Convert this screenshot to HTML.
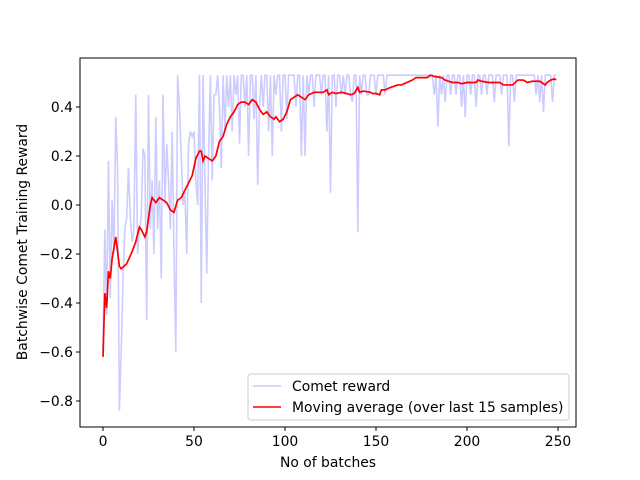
<!DOCTYPE html>
<html><head><meta charset="utf-8"><style>
body{margin:0;background:#fff}
svg{display:block;font-family:"DejaVu Sans","Liberation Sans",sans-serif}
</style></head><body>
<svg id="chart" width="640" height="480" viewBox="0 0 640 480">
<rect width="640" height="480" fill="#fff"/>
<g id="plot"></g>
<rect x="80" y="58" width="496" height="369" fill="none" stroke="#000" stroke-width="1"/>
<g id="xticks" font-size="13.9" text-anchor="middle"></g>
<g id="yticks" font-size="13.9" text-anchor="end"></g>
<text x="328" y="467" font-size="13.9" text-anchor="middle">No of batches</text>
<text transform="translate(27,242) rotate(-90)" font-size="13.9" text-anchor="middle">Batchwise Comet Training Reward</text>
<g>
<rect x="248" y="374" width="321" height="46" rx="3" fill="#fff" fill-opacity="0.8" stroke="#ccc"/>
<line x1="253" y1="386" x2="281" y2="386" stroke="#ccccff" stroke-width="1.6"/>
<text x="292" y="391" font-size="13.9">Comet reward</text>
<line x1="253" y1="407" x2="281" y2="407" stroke="#ff0000" stroke-width="1.6"/>
<text x="292" y="412" font-size="13.9">Moving average (over last 15 samples)</text>
</g>
</svg>
<script>
const rawReward = [
-0.6,-0.1,-0.45,0.18,-0.38,0.02,-0.2,0.36,0.15,-0.84,
-0.6,-0.3,-0.1,-0.05,0.15,-0.05,-0.15,-0.1,0.45,-0.2,
-0.1,-0.05,0.23,0.2,-0.47,0.45,-0.1,0.1,-0.2,0.36,
-0.1,0.1,-0.3,0.45,0.0,0.25,0.1,-0.1,0.3,-0.2,
-0.6,0.53,0.4,0.2,0.0,0.05,-0.2,0.25,0.3,0.28,
0.3,0.1,0.0,0.53,-0.4,0.53,0.1,-0.28,0.2,0.53,
0.1,0.45,0.45,0.53,0.4,0.15,0.53,0.3,0.53,0.4,
0.53,0.3,0.53,0.45,0.53,0.25,0.53,0.53,0.4,0.53,
0.2,0.53,0.53,0.35,0.53,0.08,0.4,0.53,0.4,0.53,
0.53,0.3,0.53,0.2,0.53,0.45,0.53,0.53,0.3,0.53,
0.53,0.35,0.53,0.53,0.53,0.53,0.4,0.53,0.53,0.2,
0.53,0.2,0.53,0.45,0.53,0.53,0.4,0.53,0.53,0.53,
0.45,0.53,0.53,0.3,0.53,0.05,0.53,0.53,0.4,0.53,
0.53,0.45,0.53,0.45,0.53,0.53,0.45,0.42,0.53,0.53,
-0.11,0.53,0.45,0.53,0.53,0.45,0.45,0.53,0.53,0.53,
0.45,0.53,0.53,0.53,0.53,0.45,0.53,0.53,0.53,0.53,
0.53,0.53,0.53,0.53,0.53,0.53,0.53,0.53,0.53,0.53,
0.53,0.53,0.53,0.53,0.53,0.53,0.53,0.53,0.53,0.53,
0.53,0.53,0.45,0.53,0.32,0.53,0.45,0.53,0.42,0.53,
0.53,0.45,0.53,0.53,0.45,0.53,0.53,0.4,0.53,0.36,
0.53,0.53,0.45,0.53,0.53,0.4,0.53,0.53,0.45,0.53,
0.53,0.45,0.53,0.53,0.53,0.42,0.53,0.53,0.53,0.45,
0.53,0.53,0.53,0.24,0.53,0.53,0.42,0.53,0.53,0.53,
0.53,0.53,0.53,0.53,0.53,0.53,0.53,0.53,0.45,0.53,
0.42,0.53,0.38,0.53,0.53,0.53,0.53,0.42,0.53,0.53];
const maX = [0,1,2,3,4,5,7,9,10,13,16,18,20,21,23,24,26,27,29,31,33,35,37,39,41,43,45,47,49,51,53,54,55,56,58,60,62,64,66,68,70,72,74,76,78,80,82,84,86,88,90,92,94,95,97,99,101,103,105,107,109,111,113,116,118,121,123,124,126,128,131,134,136,138,140,141,143,147,148,150,152,153,155,158,162,164,167,170,172,178,180,182,186,188,192,195,197,200,205,206,208,212,218,220,225,228,231,233,236,240,243,244,246,248,249];
const maY = [-0.62,-0.36,-0.42,-0.27,-0.3,-0.22,-0.13,-0.25,-0.26,-0.24,-0.19,-0.15,-0.09,-0.1,-0.13,-0.11,0.0,0.03,0.01,0.03,0.02,0.01,-0.02,-0.03,0.02,0.03,0.06,0.09,0.12,0.19,0.22,0.22,0.18,0.2,0.19,0.18,0.2,0.26,0.28,0.33,0.36,0.38,0.41,0.42,0.42,0.41,0.43,0.42,0.39,0.37,0.38,0.36,0.35,0.36,0.34,0.35,0.38,0.43,0.44,0.45,0.44,0.43,0.45,0.46,0.46,0.46,0.47,0.45,0.46,0.455,0.46,0.455,0.45,0.455,0.48,0.46,0.465,0.46,0.455,0.455,0.45,0.47,0.47,0.48,0.49,0.49,0.5,0.51,0.52,0.52,0.53,0.525,0.52,0.51,0.5,0.5,0.495,0.5,0.5,0.51,0.505,0.5,0.5,0.49,0.49,0.51,0.51,0.5,0.505,0.505,0.49,0.5,0.51,0.515,0.51];
const xTicks = [0,50,100,150,200,250];
const yTicks = [-0.8,-0.6,-0.4,-0.2,0.0,0.2,0.4];

const X = v => 103 + v*1.82;
const Y = v => 205 - v*245;
const NS = "http://www.w3.org/2000/svg";
const plot = document.getElementById('plot');

const raw = document.createElementNS(NS,'polyline');
raw.setAttribute('points', rawReward.map((v,i)=>X(i)+','+Y(v)).join(' '));
raw.setAttribute('fill','none'); raw.setAttribute('stroke','#ccccff'); raw.setAttribute('stroke-width','1.6');


plot.appendChild(raw);

const ma = document.createElementNS(NS,'polyline');
ma.setAttribute('points', maX.map((x,i)=>X(x)+','+Y(maY[i])).join(' '));
ma.setAttribute('fill','none'); ma.setAttribute('stroke','#ff0000'); ma.setAttribute('stroke-width','1.7');


plot.appendChild(ma);

const xg = document.getElementById('xticks');
xTicks.forEach(t=>{
  const l = document.createElementNS(NS,'line');
  l.setAttribute('x1',X(t)); l.setAttribute('x2',X(t)); l.setAttribute('y1',427); l.setAttribute('y2',431); l.setAttribute('stroke','#000');
  
  
  xg.appendChild(l);
  const tx = document.createElementNS(NS,'text');
  tx.setAttribute('x',X(t)); tx.setAttribute('y',446); tx.textContent = t;
  
  
  xg.appendChild(tx);
});
const yg = document.getElementById('yticks');
yTicks.forEach(t=>{
  const l = document.createElementNS(NS,'line');
  l.setAttribute('x1',76); l.setAttribute('x2',80); l.setAttribute('y1',Y(t)); l.setAttribute('y2',Y(t)); l.setAttribute('stroke','#000');
  
  
  yg.appendChild(l);
  const tx = document.createElementNS(NS,'text');
  tx.setAttribute('x',73); tx.setAttribute('y',Y(t)+5); tx.textContent = (t<0?'\u2212':'')+Math.abs(t).toFixed(1);
  
  
  yg.appendChild(tx);
});
</script>
</body></html>
